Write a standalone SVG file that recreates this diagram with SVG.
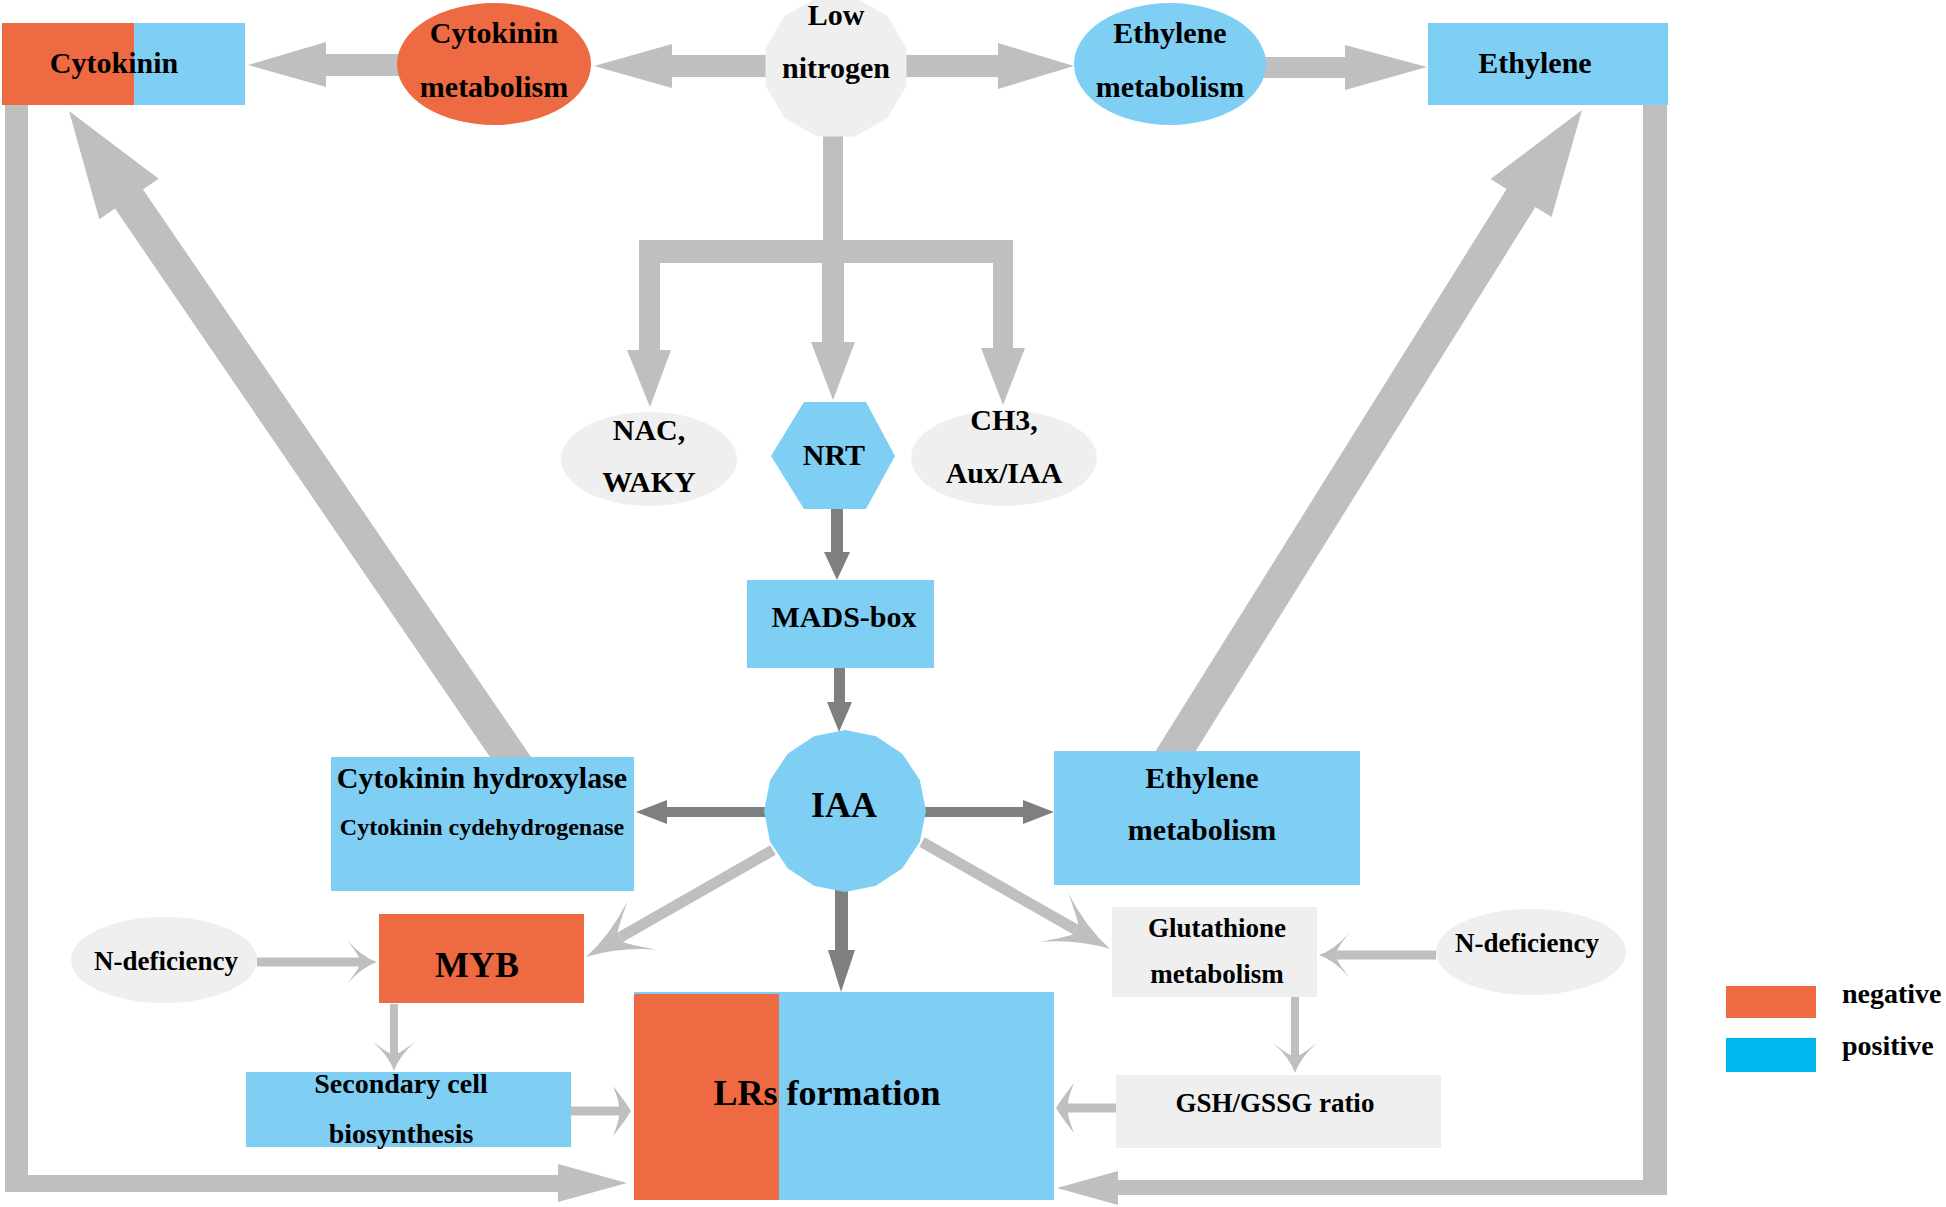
<svg xmlns="http://www.w3.org/2000/svg" xmlns:xlink="http://www.w3.org/1999/xlink" width="1946" height="1207" viewBox="0 0 1946 1207">
<style>
.t{font-family:"Liberation Serif","Times New Roman",serif;font-weight:bold;fill:#000;text-anchor:middle}
.big{fill:#BFBFBF}
.dk{fill:#7F7F7F}
.ln{stroke:#BFBFBF;fill:none}
.hd{fill:#BFBFBF}
.or{fill:#EE6A43}
.bl{fill:#7FCEF3}
.gr{fill:#EFEFEF}
</style>
<defs>
<path id="hs" d="M0,0 Q-15,-5 -30,-22 Q-20,-9 -18,-4.5 L-18,4.5 Q-20,9 -30,22 Q-15,5 0,0Z"/>
<path id="hb" d="M0,0 Q-32,-7 -64,-28 Q-45,-12 -40,-6 L-40,6 Q-45,12 -64,28 Q-32,7 0,0Z"/>
<path id="hc" d="M0,0 Q-6,-10 -18,-25 Q-12,-10 -12,-4.5 L-12,4.5 Q-12,10 -18,25 Q-6,10 0,0Z"/>
</defs>
<rect width="1946" height="1207" fill="#fff"/>
<g id="connectors">
<polygon class="big" points="767,55 672,55 672,44 594,66 672,88 672,77 767,77"/>
<polygon class="big" points="400,54 326,54 326,42 248,65 326,87 326,76 400,76"/>
<polygon class="big" points="904,55 998,55 998,43 1074,66 998,89 998,77 904,77"/>
<polygon class="big" points="1262,57 1345,57 1345,45 1427,67 1345,90 1345,78 1262,78"/>
<path class="big" d="M823,125 L843,125 L843,240 L1013,240 L1013,348 L1025,348 L1003,405 L981,348 L993,348 L993,263 L844,263 L844,342 L855,342 L833,400 L811,342 L822,342 L822,263 L660,263 L660,350 L671,350 L650,407 L627,350 L639,350 L639,240 L823,240 Z"/>
<polygon class="big" points="533.4,760.4 143,189.4 158.7,178.7 69,111 99.3,219.3 115,208.6 505.4,779.6"/>
<polygon class="big" points="1149.4,761 1506.6,189 1490.5,178.9 1582,110 1551.5,217.1 1535.4,207 1178.2,779"/>
<path class="big" d="M5,100 L28,100 L28,1175 L558,1175 L558,1164 L627,1183 L558,1202 L558,1192 L5,1192 Z"/>
<path class="big" d="M1643,100 L1667,100 L1667,1195 L1118,1195 L1118,1205 L1057,1188 L1118,1171 L1118,1180 L1643,1180 Z"/>
<polygon class="dk" points="831,505 843,505 843,552 850,552 837,580 824,552 831,552"/>
<polygon class="dk" points="834,664 845,664 845,702 852,702 839,732 827,702 834,702"/>
<polygon class="dk" points="768,807 768,817 667,817 667,824 636,812 667,800 667,807"/>
<polygon class="dk" points="921,807 921,817 1023,817 1023,824 1054,812 1023,800 1023,807"/>
<polygon class="dk" points="835,886 848,886 848,950 855,950 841,992 828,950 835,950"/>
<line class="ln" stroke-width="9" x1="257" y1="962" x2="360" y2="962"/>
<use class="hd" href="#hs" xlink:href="#hs" transform="translate(377,962)"/>
<line class="ln" stroke-width="11" x1="773" y1="850" x2="620.7" y2="937.1"/>
<use class="hd" href="#hb" xlink:href="#hb" transform="translate(586,957) rotate(150.2)"/>
<line class="ln" stroke-width="11" x1="922" y1="842" x2="1075.2" y2="929.2"/>
<use class="hd" href="#hb" xlink:href="#hb" transform="translate(1110,949) rotate(29.6)"/>
<line class="ln" stroke-width="9" x1="1436" y1="955" x2="1336" y2="955"/>
<use class="hd" href="#hs" xlink:href="#hs" transform="translate(1319,955) rotate(180)"/>
<line class="ln" stroke-width="8" x1="394" y1="1004" x2="394" y2="1054"/>
<use class="hd" href="#hs" xlink:href="#hs" transform="translate(394,1071) rotate(90)"/>
<line class="ln" stroke-width="8" x1="1295" y1="997" x2="1295" y2="1056"/>
<use class="hd" href="#hs" xlink:href="#hs" transform="translate(1295,1073) rotate(90)"/>
<line class="ln" stroke-width="9" x1="571" y1="1111" x2="620" y2="1111"/>
<use class="hd" href="#hc" xlink:href="#hc" transform="translate(631,1111)"/>
<line class="ln" stroke-width="9" x1="1116" y1="1108" x2="1067" y2="1108"/>
<use class="hd" href="#hc" xlink:href="#hc" transform="translate(1056,1108) rotate(180)"/>
</g>
<g id="cytokinin">
<rect class="or" x="2" y="23" width="132" height="82"/>
<rect class="bl" x="134" y="23" width="111" height="82"/>
<text class="t" x="114" y="73" font-size="30">Cytokinin</text>
</g>
<g id="cytokinin-metabolism">
<ellipse class="or" cx="494" cy="64" rx="97" ry="61"/>
<text class="t" x="494" y="43" font-size="30">Cytokinin</text>
<text class="t" x="494" y="97" font-size="30">metabolism</text>
</g>
<g id="low-nitrogen">
<polygon class="gr" points="906.5,85.6 887.6,117.9 854.9,136.5 817.1,136.5 784.4,117.9 765.5,85.6 765.5,48.4 784.4,16.1 817.1,-2.5 854.9,-2.5 887.6,16.1 906.5,48.4"/>
<text class="t" x="836" y="25" font-size="30">Low</text>
<text class="t" x="836" y="78" font-size="30">nitrogen</text>
</g>
<g id="ethylene-metabolism-top">
<ellipse class="bl" cx="1170" cy="64" rx="96" ry="61"/>
<text class="t" x="1170" y="43" font-size="30">Ethylene</text>
<text class="t" x="1170" y="97" font-size="30">metabolism</text>
</g>
<g id="ethylene">
<rect class="bl" x="1428" y="23" width="240" height="82"/>
<text class="t" x="1535" y="73" font-size="30">Ethylene</text>
</g>
<g id="nac-waky">
<ellipse class="gr" cx="649" cy="459" rx="88" ry="47"/>
<text class="t" x="649" y="440" font-size="30">NAC,</text>
<text class="t" x="649" y="492" font-size="30">WAKY</text>
</g>
<g id="nrt">
<polygon class="bl" points="804,402 866,402 895,456 866,509 804,509 771,456"/>
<text class="t" x="834" y="465" font-size="30">NRT</text>
</g>
<g id="ch3-aux">
<ellipse class="gr" cx="1004" cy="458" rx="93" ry="48"/>
<text class="t" x="1004" y="430" font-size="30">CH3,</text>
<text class="t" x="1004" y="483" font-size="30">Aux/IAA</text>
</g>
<g id="mads-box">
<rect class="bl" x="747" y="580" width="187" height="88"/>
<text class="t" x="844" y="627" font-size="30">MADS-box</text>
</g>
<g id="iaa">
<polygon class="bl" points="926,811 919.8,842 902.3,868.3 876,885.8 845,892 814,885.8 787.7,868.3 770.2,842 764,811 770.2,780 787.7,753.7 814,736.2 845,730 876,736.2 902.3,753.7 919.8,780"/>
<text class="t" x="844" y="817" font-size="36">IAA</text>
</g>
<g id="cytokinin-hydroxylase">
<rect class="bl" x="331" y="757" width="303" height="134"/>
<text class="t" x="482" y="788" font-size="30">Cytokinin hydroxylase</text>
<text class="t" x="482" y="835" font-size="24">Cytokinin cydehydrogenase</text>
</g>
<g id="ethylene-metabolism-mid">
<rect class="bl" x="1054" y="751" width="306" height="134"/>
<text class="t" x="1202" y="788" font-size="30">Ethylene</text>
<text class="t" x="1202" y="840" font-size="30">metabolism</text>
</g>
<g id="n-deficiency-left">
<ellipse class="gr" cx="164" cy="960" rx="93" ry="43"/>
<text class="t" x="166" y="970" font-size="27">N-deficiency</text>
</g>
<g id="myb">
<rect class="or" x="379" y="914" width="205" height="89"/>
<text class="t" x="477" y="977" font-size="36">MYB</text>
</g>
<g id="glutathione">
<rect class="gr" x="1112" y="907" width="205" height="90"/>
<text class="t" x="1217" y="937" font-size="27">Glutathione</text>
<text class="t" x="1217" y="983" font-size="27">metabolism</text>
</g>
<g id="n-deficiency-right">
<ellipse class="gr" cx="1531" cy="952" rx="95" ry="43"/>
<text class="t" x="1527" y="952" font-size="27">N-deficiency</text>
</g>
<g id="secondary-cell">
<rect class="bl" x="246" y="1072" width="325" height="75"/>
<text class="t" x="401" y="1093" font-size="28">Secondary cell</text>
<text class="t" x="401" y="1143" font-size="28">biosynthesis</text>
</g>
<g id="lrs-formation">
<rect class="bl" x="634" y="992" width="420" height="208"/>
<rect class="or" x="634" y="994" width="145" height="206"/>
<text class="t" x="827" y="1105" font-size="36">LRs formation</text>
</g>
<g id="gsh-gssg">
<rect class="gr" x="1116" y="1075" width="325" height="73"/>
<text class="t" x="1275" y="1112" font-size="27">GSH/GSSG ratio</text>
</g>
<g id="legend">
<rect class="or" x="1726" y="986" width="90" height="32"/>
<rect x="1726" y="1038" width="90" height="34" fill="#00B7EF"/>
<text class="t" x="1842" y="1003" font-size="28" style="text-anchor:start">negative</text>
<text class="t" x="1842" y="1055" font-size="28" style="text-anchor:start">positive</text>
</g>
</svg>
